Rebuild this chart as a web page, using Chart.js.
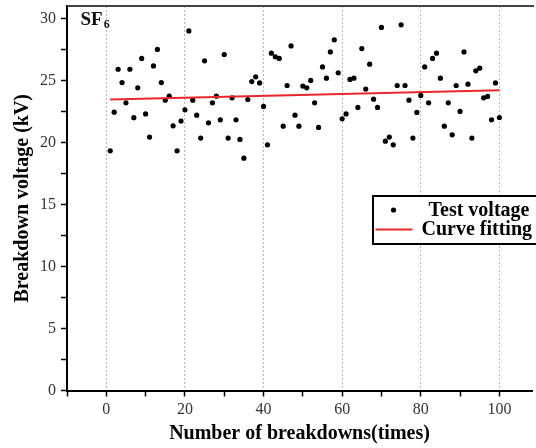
<!DOCTYPE html>
<html><head><meta charset="utf-8">
<script src="https://cdn.jsdelivr.net/npm/chart.js@4/dist/chart.umd.min.js"></script>
<style>html,body{margin:0;padding:0;background:#fff}#wrap{width:536px;height:448px;position:relative}</style>
</head><body><div id="wrap"><canvas id="c"></canvas></div>
<script>
const runs = Array.from({length:100},(_,k)=>k+1);
const testVoltage = [
19.32,22.44,25.9,24.83,23.19,25.9,22.0,24.4,26.77,22.3,
20.43,26.17,27.5,24.83,23.4,23.73,21.34,19.32,21.72,22.63,
28.99,23.41,22.2,20.35,26.58,21.58,23.19,23.73,21.82,27.09,
20.35,23.6,21.82,20.24,18.73,23.46,24.91,25.29,24.8,22.9,
19.81,27.2,26.9,26.77,21.31,24.59,27.78,22.2,21.31,24.54,
24.4,25.0,23.19,21.21,26.09,25.18,27.3,28.27,25.61,21.9,
22.3,25.08,25.18,22.82,27.57,24.3,26.31,23.49,22.82,29.27,
20.1,20.43,19.81,24.59,29.48,24.59,23.41,20.35,22.42,23.79,
26.09,23.19,26.77,27.2,25.18,21.31,23.19,20.61,24.59,22.5,
27.3,24.7,20.35,25.77,25.99,23.6,23.71,21.82,24.8,22.01];
const fitX = [1, 100];
const fitY = [23.47, 24.2];
const xTicks = [-10,0,10,20,30,40,50,60,70,80,90,100];
const yTicks = [0,2.5,5,7.5,10,12.5,15,17.5,20,22.5,25,27.5,30];
const seriesNames = ['Test voltage','Curve fitting'];
const serif = "'Liberation Serif','Times New Roman',serif";

const decor = {
  id:'decor',
  afterDraw(chart){
    const {ctx, chartArea:a} = chart;
    ctx.save();
    ctx.strokeStyle='#444'; ctx.lineWidth=2;
    ctx.beginPath(); ctx.moveTo(a.left,a.top); ctx.lineTo(a.right+2,a.top); ctx.stroke();
    ctx.fillStyle='#111'; ctx.textBaseline='alphabetic'; ctx.textAlign='left';
    ctx.font='bold 19px '+serif;
    ctx.fillText('SF',80.5,24.5);
    const w = ctx.measureText('SF').width;
    ctx.font='bold 12px '+serif;
    ctx.fillText('6',80.5+w+1,28);
    ctx.fillStyle='#fff';
    ctx.fillRect(373,196,170,48);
    ctx.strokeStyle='#000'; ctx.lineWidth=2;
    ctx.strokeRect(373,196,170,48);
    ctx.fillStyle='#000';
    ctx.beginPath(); ctx.arc(393.5,210,2.6,0,Math.PI*2); ctx.fill();
    ctx.strokeStyle='#e8262b'; ctx.lineWidth=2;
    ctx.beginPath(); ctx.moveTo(375.5,229.5); ctx.lineTo(412.5,229.5); ctx.stroke();
    ctx.fillStyle='#000'; ctx.font='bold 20px '+serif; ctx.textBaseline='middle';
    ctx.fillText(chart.data.datasets[0].label,428.5,210.5);
    ctx.fillText(chart.data.datasets[1].label,421.5,230);
    ctx.restore();
  }
};

new Chart(document.getElementById('c'), {
  type:'scatter',
  data:{datasets:[
    {label:seriesNames[0], data:runs.map((r,k)=>({x:r,y:testVoltage[k]})), backgroundColor:'#000', borderColor:'#000', pointRadius:2.6, pointBorderWidth:0, order:1},
    {type:'line', label:seriesNames[1], data:fitX.map((x,k)=>({x:x,y:fitY[k]})), borderColor:'#e8262b', borderWidth:2, pointRadius:0, fill:false, order:0}
  ]},
  options:{
    responsive:true, maintainAspectRatio:false, animation:false, events:[],
    layout:{padding:{left:0,right:0,top:6,bottom:0}},
    plugins:{legend:{display:false}, tooltip:{enabled:false}},
    scales:{
      x:{type:'linear', min:-10, max:108.3,
        afterBuildTicks:s=>{s.ticks=xTicks.map(v=>({value:v}));},
        ticks:{callback:v=>(v%20===0?String(v):''), font:{family:serif,size:16}, color:'#333', padding:4, maxRotation:0, autoSkip:false},
        grid:{drawOnChartArea:true, color:c=>(c.tick&&c.tick.value>=0&&c.tick.value%20===0)?'#b8b8b8':'rgba(0,0,0,0)', lineWidth:1, tickColor:'#000', tickLength:6, tickWidth:1.5},
        border:{display:true, color:'#000', width:2, dash:[2,2]},
        title:{display:true, text:'Number of breakdowns(times)', font:{family:serif,size:20,weight:'bold'}, color:'#000', padding:{top:2,bottom:2}},
        afterFit:s=>{s.height=57.5; s.paddingLeft=0; s.paddingRight=0;}
      },
      y:{type:'linear', min:0, max:31,
        afterBuildTicks:s=>{s.ticks=yTicks.map(v=>({value:v}));},
        ticks:{callback:v=>(v%5===0?String(v):''), font:{family:serif,size:16}, color:'#333', padding:5, autoSkip:false},
        grid:{drawOnChartArea:false, tickColor:'#000', tickLength:6, tickWidth:1.5},
        border:{display:true, color:'#000', width:2},
        title:{display:true, text:'Breakdown voltage (kV)', font:{family:serif,size:20,weight:'bold'}, color:'#000', padding:{top:11,bottom:0}},
        afterFit:s=>{s.width=67; s.paddingTop=0; s.paddingBottom=0;}
      }
    }
  },
  plugins:[decor]
});
</script></body></html>
